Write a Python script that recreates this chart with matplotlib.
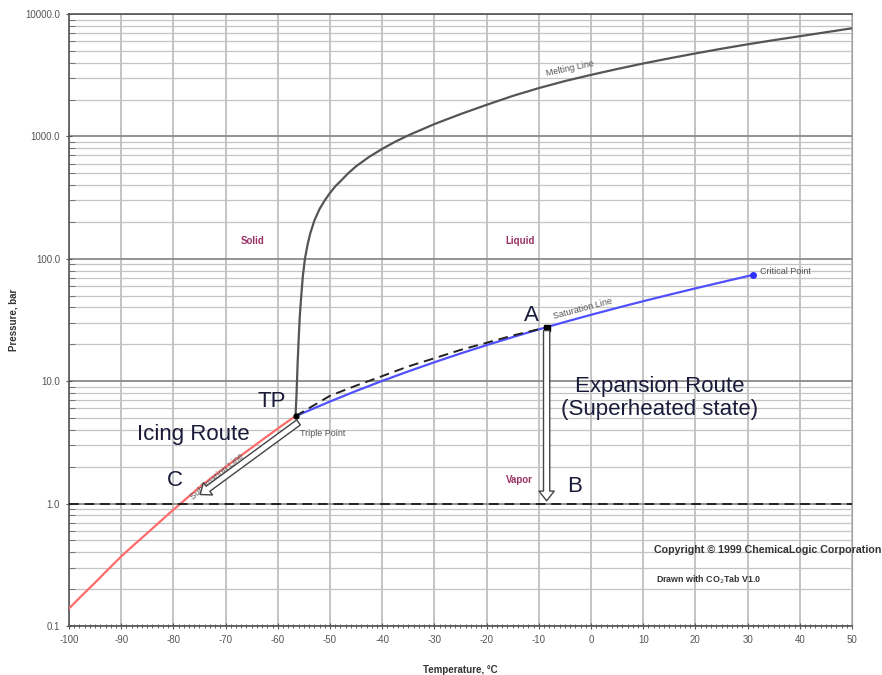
import numpy as np
import matplotlib.pyplot as plt
from matplotlib.patches import FancyArrowPatch
from matplotlib.ticker import FixedLocator, MultipleLocator, FormatStrFormatter

plt.rcParams['font.family'] = ['Liberation Sans', 'DejaVu Sans']
plt.rcParams['axes.unicode_minus'] = False

#==============================
# data
#==============================
subl_T = [-100, -97.5, -95, -92.5, -90, -87.5, -85, -82.5, -80, -77.5, -75,
          -72.5, -70, -67.5, -65, -62.5, -60, -58.3, -56.6]
subl_P = [0.139, 0.178, 0.226, 0.290, 0.370, 0.462, 0.574, 0.716, 0.89, 1.10, 1.36,
          1.65, 1.99, 2.39, 2.86, 3.43, 4.10, 4.62, 5.18]

sat_T = [-56.6, -50, -45, -40, -35, -30, -25, -20, -15, -10, -5, 0, 5, 10, 15, 20, 25, 31]
sat_P = [5.18, 6.82, 8.32, 10.05, 12.02, 14.28, 16.83, 19.70, 22.91, 26.49, 30.47,
         34.85, 39.69, 45.02, 50.87, 57.29, 64.34, 73.8]

melt_T = [-56.6, -56.4, -56.2, -56.0, -55.8, -55.5, -55.2, -54.8, -54.3, -53.8, -53,
          -52, -51, -50, -49, -48, -46.5, -45, -42.5, -40, -37.5, -35, -30,
          -25, -20, -15, -10, -5, 0, 5, 10, 15, 20, 25, 30, 35, 40, 45, 50]
melt_P = [5.18, 8, 14, 22, 33, 50, 72, 100, 130, 160, 205,
          255, 300, 345, 390, 430, 500, 570, 680, 790, 905, 1020, 1260,
          1520, 1810, 2140, 2480, 2830, 3180, 3550, 3940, 4340, 4760, 5200, 5650,
          6110, 6580, 7090, 7640]

# dashed path TP -> A
dash_T = [-56.6, -50, -45, -40, -35, -30, -25, -20, -15, -9]
dash_P = [5.18, 7.6, 9.2, 11.0, 13.2, 15.4, 18.0, 20.6, 23.6, 27.2]

tp = (-56.6, 5.18)
cp = (31, 73.8)
pt_A = (-8.5, 27.3)
pt_B = (-8.5, 1.0)
ice_start = (-55.6, 4.75)
ice_end = (-75.3, 1.15)

x_ticks = list(range(-100, 51, 10))
y_ticks = [0.1, 1, 10, 100, 1000, 10000]

fig = plt.figure(figsize=(8.82, 6.75), dpi=100)
ax = fig.add_axes([0.0782, 0.0726, 0.8878, 0.9067])
ax.set_yscale('log')
ax.set_xlim(-100, 50)
ax.set_ylim(0.1, 10000)

# grid
ax.xaxis.set_major_locator(FixedLocator(x_ticks))
ax.xaxis.set_minor_locator(MultipleLocator(1))
ax.yaxis.set_major_locator(FixedLocator(y_ticks))
ax.yaxis.set_major_formatter(FormatStrFormatter('%.1f'))
ax.grid(which='major', axis='x', color='#b4b4b4', lw=1.1)
ax.grid(which='minor', axis='y', color='#c4c4c4', lw=0.9)
ax.grid(which='major', axis='y', color='#8a8a8a', lw=1.3)
ax.tick_params(axis='both', which='major', labelsize=7, labelcolor='#555555',
               direction='inout', length=5, color='#555555', pad=4)
ax.tick_params(axis='y', which='minor', direction='in', length=4, color='#666666')
ax.tick_params(axis='x', which='minor', direction='inout', length=3, color='#444444')
for s in ['left', 'bottom', 'top']:
    ax.spines[s].set_color('#555555')
    ax.spines[s].set_linewidth(1.2)
ax.spines['right'].set_color('#a0a0a0')

ax.set_xlabel('Temperature, °C', fontsize=7, fontweight='bold', color='#333333')
ax.set_ylabel('Pressure, bar', fontsize=7, fontweight='bold', color='#333333')
ax.xaxis.set_label_coords(0.5, -0.064)
ax.yaxis.set_label_coords(-0.064, 0.5)

# phase lines
ax.plot(subl_T, subl_P, color='#ff6b6b', lw=1.6, zorder=3)
ax.plot(sat_T, sat_P, color='#5050ff', lw=1.6, zorder=3)
ax.plot(melt_T, melt_P, color='#555555', lw=1.6, zorder=3)
ax.plot(dash_T, dash_P, color='#222222', lw=1.4, ls=(0, (5, 3)), zorder=4)
ax.axhline(1.0, color='#222222', lw=1.4, ls=(0, (5, 3)), zorder=3)

ax.plot(*tp, 'o', color='black', ms=3.5, zorder=5)
ax.plot(*pt_A, 's', color='black', ms=5, zorder=5)
ax.plot(*cp, 'o', color='#3030ff', ms=4, zorder=5)

# hollow arrows
for a, b in [(pt_A, pt_B), (ice_start, ice_end)]:
    arr = FancyArrowPatch(a, b, arrowstyle='simple,head_width=11,head_length=7,tail_width=4.5',
                          mutation_scale=1, fc='white', ec='#444444', lw=1.0, zorder=6)
    ax.add_patch(arr)

# small labels
lab = dict(fontsize=7, color='#993366', fontweight='bold', ha='center', va='center')
ax.text(-64.9, 140, 'Solid', **lab)
ax.text(-13.6, 140, 'Liquid', **lab)
ax.text(-13.8, 1.57, 'Vapor', **lab)

sm = dict(fontsize=6.5, color='#555555', va='center')
ax.text(32.4, 78, 'Critical Point', ha='left', **sm)
ax.text(-55.7, 3.73, 'Triple Point', ha='left', **sm)
ax.text(-1.5, 39, 'Saturation Line', ha='center', rotation=15, **sm)
ax.text(-4, 3556, 'Melting Line', ha='center', rotation=12, **sm)
ax.text(-71.6, 1.66, 'Sublimation Line', ha='center', rotation=40, **sm)

# big labels
big = dict(fontsize=16, color='#1a1a3a', ha='center', va='center', zorder=7)
ax.text(-61.1, 6.8, 'TP', **big)
ax.text(-76.1, 3.66, 'Icing Route', **big)
ax.text(-79.7, 1.54, 'C', **big)
ax.text(-11.5, 34.3, 'A', **big)
ax.text(-3.1, 1.38, 'B', **big)
ax.text(13.2, 7.3, 'Expansion Route\n(Superheated state)', linespacing=1.1, **big)

ax.text(12.0, 0.415, 'Copyright © 1999 ChemicaLogic Corporation', fontsize=7.7,
        fontweight='bold', color='#333333', va='center', ha='left', clip_on=False)
ax.text(12.4, 0.24, 'Drawn with CO$_2$Tab V1.0', fontsize=6.4,
        fontweight='bold', color='#333333', va='center', ha='left')

fig.savefig('out.png', dpi=100)
